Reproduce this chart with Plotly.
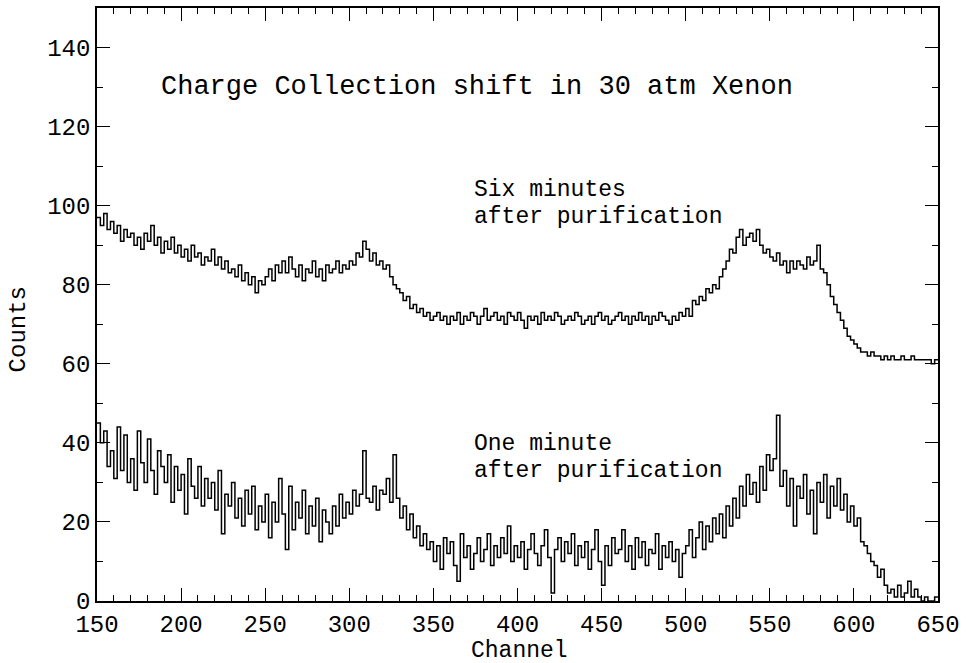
import numpy as np
import plotly.graph_objects as go

# Channel bins (2 channels wide), 150 .. 650
bin_width = 2
channel_start = 150
channel_end = 650

# Counts six minutes after purification
six_min_counts = [
    97, 95, 98, 94, 96, 93, 95, 91, 94, 92,
    93, 90, 92, 89, 93, 91, 95, 90, 92, 88,
    91, 89, 92, 88, 90, 87, 89, 86, 90, 87,
    88, 85, 87, 86, 89, 85, 87, 84, 86, 83,
    84, 82, 85, 81, 83, 80, 82, 78, 81, 80,
    82, 84, 81, 85, 83, 86, 83, 87, 84, 82,
    85, 81, 84, 83, 86, 82, 84, 81, 85, 83,
    84, 86, 83, 85, 84, 86, 85, 88, 87, 91,
    89, 86, 88, 85, 86, 84, 85, 82, 80, 79,
    78, 76, 77, 74, 75, 73, 74, 72, 73, 71,
    72, 73, 71, 72, 70, 72, 71, 73, 70, 72,
    71, 73, 72, 70, 72, 74, 71, 72, 73, 71,
    72, 70, 73, 72, 71, 73, 71, 69, 72, 71,
    72, 70, 73, 71, 72, 71, 73, 72, 70, 71,
    72, 71, 73, 72, 70, 71, 72, 70, 72, 73,
    71, 72, 70, 71, 72, 73, 71, 72, 70, 72,
    71, 73, 71, 72, 70, 72, 71, 73, 72, 71,
    70, 72, 71, 73, 72, 74, 72, 76, 75, 77,
    76, 79, 78, 80, 79, 82, 84, 86, 89, 88,
    92, 94, 90, 92, 93, 91, 94, 90, 88, 89,
    87, 86, 88, 85, 86, 83, 86, 84, 86, 85,
    84, 87, 85, 86, 90, 84, 83, 80, 77, 75,
    73, 71, 69, 67, 66, 65, 64, 63, 63, 62,
    63, 62, 62, 61, 62, 61, 62, 61, 61, 62,
    61, 61, 62, 61, 61, 61, 61, 61, 60, 61,
]

# Counts one minute after purification
one_min_counts = [
    45, 40, 43, 34, 38, 31, 44, 33, 42, 30,
    36, 28, 43, 35, 30, 41, 33, 27, 38, 34,
    30, 37, 25, 34, 28, 32, 22, 36, 29, 26,
    34, 24, 31, 26, 30, 23, 33, 17, 27, 24,
    30, 21, 26, 19, 28, 22, 29, 18, 24, 20,
    27, 16, 25, 20, 31, 22, 13, 29, 18, 25,
    21, 28, 17, 24, 19, 26, 15, 23, 20, 17,
    24, 19, 27, 21, 25, 22, 28, 24, 27, 38,
    26, 25, 29, 23, 28, 27, 31, 25, 37, 26,
    21, 24, 18, 22, 16, 19, 14, 17, 13, 15,
    10, 14, 8, 16, 12, 15, 9, 5, 17, 11,
    14, 8, 12, 16, 10, 13, 17, 9, 14, 11,
    16, 12, 19, 10, 14, 11, 15, 8, 13, 17,
    12, 9, 14, 18, 11, 2, 13, 16, 10, 15,
    12, 17, 9, 14, 11, 15, 8, 13, 18, 10,
    4, 14, 9, 16, 12, 13, 18, 10, 14, 8,
    16, 11, 15, 9, 13, 12, 17, 8, 14, 11,
    15, 10, 13, 6, 12, 14, 18, 11, 16, 20,
    13, 19, 15, 21, 17, 22, 16, 24, 19, 26,
    21, 29, 24, 32, 27, 30, 25, 34, 28, 37,
    33, 36, 47, 29, 33, 24, 31, 19, 29, 26,
    32, 22, 28, 17, 30, 25, 32, 21, 29, 24,
    31, 23, 27, 20, 24, 19, 21, 15, 14, 12,
    10, 9, 6, 8, 4, 2, 3, 1, 4, 1,
    2, 5, 1, 3, 1, 0, 1, 0, 0, 1,
]

edges = np.arange(channel_start, channel_end + bin_width, bin_width)

FONT = "Liberation Mono"


def step_trace(counts):
    # repeat last value at the right edge so the final bin is closed
    y = list(counts) + [counts[-1]]
    return go.Scatter(
        x=edges, y=y, mode="lines", line_shape="hv",
        line=dict(color="black", width=1.5), hoverinfo="skip",
        showlegend=False,
    )


fig = go.Figure()
fig.add_trace(step_trace(six_min_counts))
fig.add_trace(step_trace(one_min_counts))

label_font = dict(family=FONT, size=23, color="black")

fig.add_annotation(x=187, y=130, xref="x", yref="y", xanchor="left",
                   yanchor="middle", showarrow=False,
                   text="Charge Collection shift in 30 atm Xenon",
                   font=dict(family=FONT, size=27, color="black"))
fig.add_annotation(x=373, y=104, xref="x", yref="y", xanchor="left",
                   yanchor="middle", showarrow=False, text="Six minutes",
                   font=label_font)
fig.add_annotation(x=373, y=97.2, xref="x", yref="y", xanchor="left",
                   yanchor="middle", showarrow=False,
                   text="after purification", font=label_font)
fig.add_annotation(x=373, y=39.6, xref="x", yref="y", xanchor="left",
                   yanchor="middle", showarrow=False, text="One minute",
                   font=label_font)
fig.add_annotation(x=373, y=32.8, xref="x", yref="y", xanchor="left",
                   yanchor="middle", showarrow=False,
                   text="after purification", font=label_font)

# axis titles
fig.add_annotation(x=0.502, y=0, xref="paper", yref="paper",
                   xanchor="center", yanchor="middle", yshift=-50,
                   showarrow=False, text="Channel",
                   font=dict(family=FONT, size=23, color="black"))
fig.add_annotation(x=0, y=0.458, xref="paper", yref="paper",
                   xanchor="center", yanchor="middle", xshift=-79,
                   showarrow=False, text="Counts", textangle=-90,
                   font=dict(family=FONT, size=24, color="black"))

axis_common = dict(
    showline=True, linecolor="black", linewidth=1.6, mirror="ticks",
    ticks="inside", ticklen=13, tickwidth=1.2, tickcolor="black",
    showgrid=False, zeroline=False, automargin=False,
)

fig.update_xaxes(
    range=[channel_start, channel_end], dtick=50, tick0=150,
    tickfont=dict(family=FONT, size=24, color="black"),
    minor=dict(dtick=10, ticklen=6, ticks="inside", tickcolor="black",
               tickwidth=1.1),
    **axis_common,
)
fig.update_yaxes(
    range=[0, 150], dtick=20, tick0=0,
    tickfont=dict(family=FONT, size=24, color="black"),
    minor=dict(dtick=10, ticklen=6, ticks="inside", tickcolor="black",
               tickwidth=1.1),
    **axis_common,
)

fig.update_layout(
    width=966, height=663,
    margin=dict(l=97, r=28, t=8, b=62),
    plot_bgcolor="white", paper_bgcolor="white",
)

fig.write_html("out.html")
